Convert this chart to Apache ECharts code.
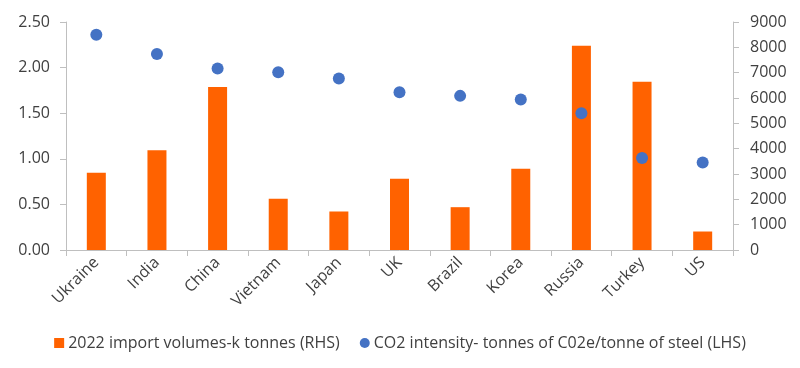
<!DOCTYPE html>
<html><head><meta charset="utf-8">
<script src="https://cdn.jsdelivr.net/npm/echarts@6/dist/echarts.min.js"></script>
<style>html,body{margin:0;padding:0;background:#fff}#c{width:800px;height:368px}</style>
</head><body><div id="c"></div>
<script>
const categories = ['Ukraine','India','China','Vietnam','Japan','UK','Brazil','Korea','Russia','Turkey','US'];
const importVolumes = [3050, 3940, 6430, 2020, 1520, 2810, 1690, 3205, 8060, 6640, 730];
const co2Intensity = [2.36, 2.15, 1.99, 1.95, 1.88, 1.73, 1.69, 1.65, 1.50, 1.01, 0.96];
const barName = '2022 import volumes-k tonnes (RHS)';
const dotName = 'CO2 intensity- tonnes of C02e/tonne of steel (LHS)';
const font = 'Open Sans';
const axisCol = '#bfbfbf';
const txt = '#404040';
const chart = echarts.init(document.getElementById('c'));
chart.setOption({
  animation: false,
  grid: {left: 66, right: 67, top: 22, bottom: 118, containLabel: false},
  legend: {
    top: 330, left: 'center', itemGap: 20, itemWidth: 10, itemHeight: 10,
    textStyle: {fontFamily: font, fontSize: 16, color: txt, padding: [0, 0, 0, -1]},
    data: [{name: barName, icon: 'rect'}, {name: dotName, icon: 'circle'}]
  },
  xAxis: {
    type: 'category', data: categories, boundaryGap: true,
    axisLine: {lineStyle: {color: axisCol}},
    axisTick: {show: true, alignWithLabel: false, length: 6, lineStyle: {color: axisCol}},
    axisLabel: {rotate: 45, margin: 10, fontFamily: font, fontSize: 16, color: txt, interval: 0}
  },
  yAxis: [{
    type: 'value', min: 0, max: 2.5, interval: 0.5, position: 'left',
    splitLine: {show: false},
    axisLine: {show: true, lineStyle: {color: axisCol}},
    axisTick: {show: true, length: 6, lineStyle: {color: axisCol}},
    axisLabel: {formatter: v => v.toFixed(2), fontFamily: font, fontSize: 16, color: txt, margin: 16}
  }, {
    type: 'value', min: 0, max: 9000, interval: 1000, position: 'right',
    splitLine: {show: false},
    axisLine: {show: true, lineStyle: {color: axisCol}},
    axisTick: {show: true, length: 6, lineStyle: {color: axisCol}},
    axisLabel: {formatter: v => String(v), fontFamily: font, fontSize: 16, color: txt, margin: 17}
  }],
  series: [{
    name: barName, type: 'bar', yAxisIndex: 1, data: importVolumes,
    barWidth: 19, itemStyle: {color: '#FF6200'}
  }, {
    name: dotName, type: 'scatter', yAxisIndex: 0, data: co2Intensity,
    symbolSize: 12, itemStyle: {color: '#4472C4', opacity: 1}
  }]
});
</script></body></html>
